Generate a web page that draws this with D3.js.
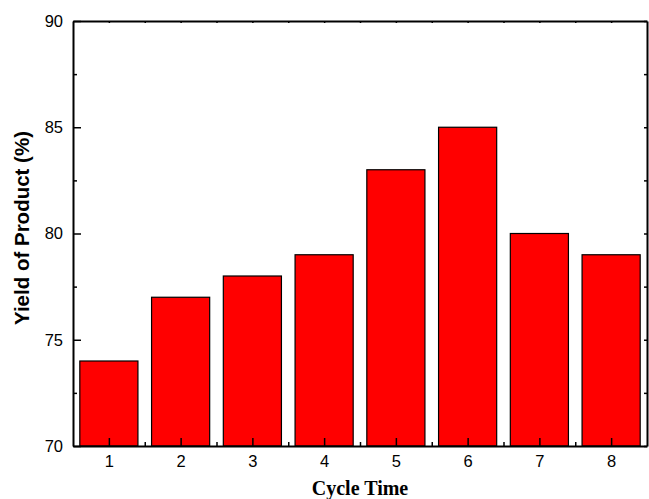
<!DOCTYPE html>
<html>
<head>
<meta charset="utf-8">
<script src="https://cdn.jsdelivr.net/npm/d3@7"></script>
<style>
  body { margin: 0; background: #fff; }
  svg { display: block; }
</style>
</head>
<body>
<script>
// data
const cycles = [1, 2, 3, 4, 5, 6, 7, 8];
const yields = [74, 77, 78, 79, 83, 85, 80, 79];
const yMajorTicks = [70, 75, 80, 85, 90];
const yMinorTicks = [72.5, 77.5, 82.5, 87.5];
const xMinorTicks = [1.5, 2.5, 3.5, 4.5, 5.5, 6.5, 7.5];

const W = 649, H = 499;
const margin = { top: 21, right: 2, bottom: 53, left: 73 };
const width = W - margin.left - margin.right;
const height = H - margin.top - margin.bottom;

const svg = d3.select("body").append("svg")
    .attr("width", W)
    .attr("height", H);

const g = svg.append("g")
    .attr("transform", `translate(${margin.left}, ${margin.top})`);

const x = d3.scaleLinear().domain([0.5, 8.5]).range([0, width]);
const y = d3.scaleLinear().domain([70, 90]).range([height, 0]);
const barW = (x(1) - x(0)) * 0.81;

// bars
g.selectAll("rect.bar")
    .data(cycles)
    .enter()
    .append("rect")
    .attr("class", "bar")
    .attr("x", (d) => x(d) - barW / 2)
    .attr("y", (d, i) => y(yields[i]))
    .attr("width", barW)
    .attr("height", (d, i) => y(70) - y(yields[i]))
    .attr("fill", "#ff0000")
    .attr("stroke", "#000")
    .attr("stroke-width", 1.2);

const axisStyle = (sel) => {
    sel.select(".domain").attr("stroke", "#000").attr("stroke-width", 2);
    sel.selectAll(".tick line").attr("stroke", "#000").attr("stroke-width", 1.5);
    sel.selectAll("text")
        .attr("font-family", "Liberation Sans, Arial, sans-serif")
        .attr("font-size", 16.5)
        .attr("fill", "#000");
};

// bottom axis, ticks pointing in
g.append("g")
    .attr("transform", `translate(0, ${height})`)
    .call(d3.axisBottom(x).tickValues(cycles).tickFormat(d3.format("d"))
        .tickSizeInner(-8).tickSizeOuter(0).tickPadding(9))
    .call(axisStyle);
g.append("g")
    .attr("transform", `translate(0, ${height})`)
    .call(d3.axisBottom(x).tickValues(xMinorTicks).tickFormat("")
        .tickSizeInner(-4).tickSizeOuter(0))
    .call(axisStyle)
    .select(".domain").remove();

// left axis
g.append("g")
    .call(d3.axisLeft(y).tickValues(yMajorTicks).tickFormat(d3.format("d"))
        .tickSizeInner(-8).tickSizeOuter(0).tickPadding(10))
    .call(axisStyle);
g.append("g")
    .call(d3.axisLeft(y).tickValues(yMinorTicks).tickFormat("")
        .tickSizeInner(-4).tickSizeOuter(0))
    .call(axisStyle)
    .select(".domain").remove();

// top and right axes, short ticks, no labels
g.append("g")
    .call(d3.axisTop(x).tickValues(cycles.concat(xMinorTicks)).tickFormat("")
        .tickSizeInner(-2).tickSizeOuter(0))
    .call(axisStyle);
g.append("g")
    .attr("transform", `translate(${width}, 0)`)
    .call(d3.axisRight(y).tickValues(yMajorTicks.concat(yMinorTicks)).tickFormat("")
        .tickSizeInner(-3).tickSizeOuter(0))
    .call(axisStyle);

// axis titles
svg.append("text")
    .attr("x", margin.left + width / 2)
    .attr("y", 495)
    .attr("text-anchor", "middle")
    .attr("font-family", "Liberation Serif, Times New Roman, serif")
    .attr("font-weight", "bold")
    .attr("font-size", 20)
    .text("Cycle Time");

svg.append("text")
    .attr("transform", `translate(29, 228) rotate(-90)`)
    .attr("text-anchor", "middle")
    .attr("font-family", "Liberation Sans, Arial, sans-serif")
    .attr("font-weight", "bold")
    .attr("font-size", 20.5)
    .text("Yield of Product (%)");
</script>
</body>
</html>
